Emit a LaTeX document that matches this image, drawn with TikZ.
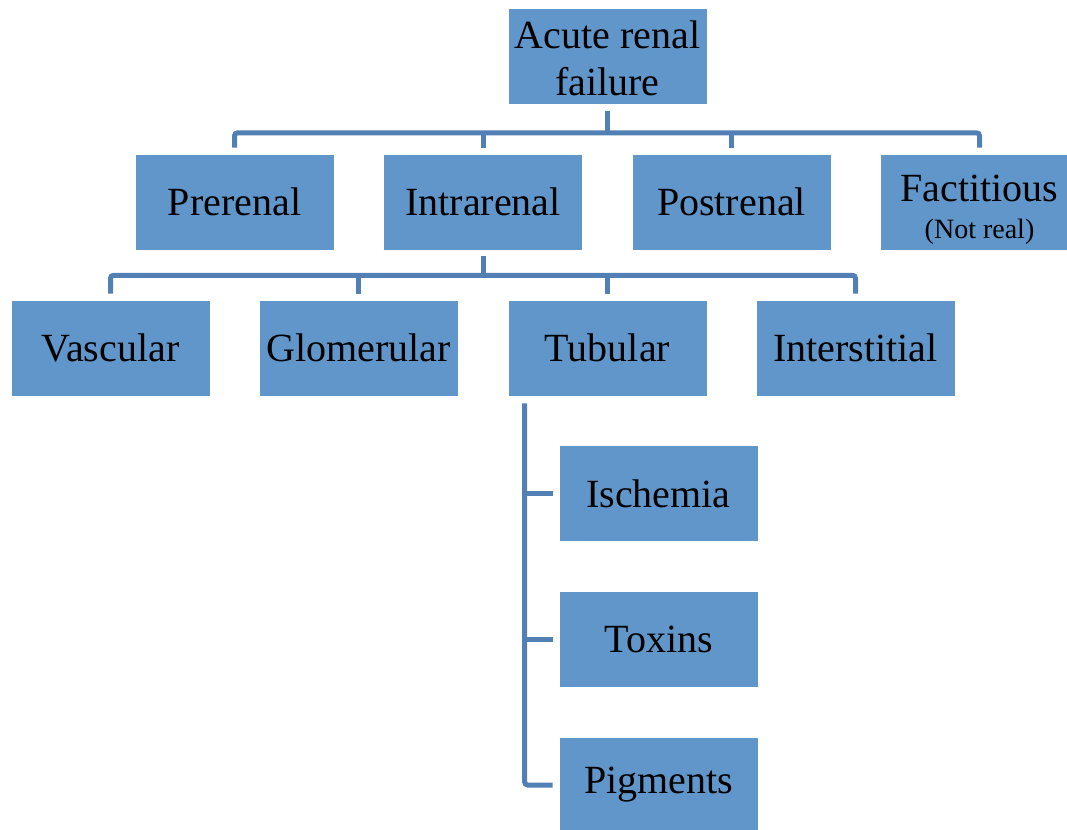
\documentclass[tikz,border=0pt]{standalone}
\usepackage{fontspec}
\setmainfont{Liberation Serif}
\definecolor{boxblue}{RGB}{96,150,201}
\definecolor{lineblue}{RGB}{82,128,181}
\begin{document}
\begin{tikzpicture}[x=1pt,y=-1pt,
    box/.style={fill=boxblue,draw=white,line width=0.6pt,minimum width=199pt,minimum height=96pt,
        inner sep=0pt,align=center,font=\fontsize{40}{47}\selectfont},
    link/.style={draw=lineblue,line width=5pt,rounded corners=3pt}]
    % Fix the page to the reference size
    \useasboundingbox (0,0) rectangle (1067,829);

    % Top box
    \node[box] (root) at (607.5,56.5) {\rule{0pt}{32pt}Acute renal\\failure};

    % Second row
    \node[box] (pre) at (234.5,202) {Prerenal};
    \node[box] (intra) at (483,202) {Intrarenal};
    \node[box] (post) at (731.5,202) {Postrenal};
    \node[box] (fact) at (979.5,202) {\rule{0pt}{42pt}Factitious\\[-10pt]{\fontsize{28}{32}\selectfont (Not real)}};

    % Third row, under Intrarenal
    \node[box] (vasc) at (110.5,348) {Vascular};
    \node[box] (glom) at (358.5,348) {Glomerular};
    \node[box] (tub) at (607.5,348) {Tubular};
    \node[box] (inter) at (855.5,348) {Interstitial};

    % Column under Tubular
    \node[box] (isch) at (658.5,493.5) {Ischemia};
    \node[box] (tox) at (658.5,639.5) {Toxins};
    \node[box] (pig) at (658.5,785) {Pigments};

    % Connectors from the top box
    \draw[link] ([yshift=-6pt]root.south) -- ++(0,22) coordinate (bus1);
    \draw[link] ([yshift=6pt]pre.north) |- (bus1) -| ([yshift=6pt]fact.north);
    \draw[link] (bus1 -| intra.north) -- ([yshift=6pt]intra.north);
    \draw[link] (bus1 -| post.north) -- ([yshift=6pt]post.north);

    % Connectors from Intrarenal
    \draw[link] ([yshift=-6pt]intra.south) -- ++(0,19) coordinate (bus2);
    \draw[link] ([yshift=6pt]vasc.north) |- (bus2) -| ([yshift=6pt]inter.north);
    \draw[link] (bus2 -| glom.north) -- ([yshift=6pt]glom.north);
    \draw[link] (bus2 -| tub.north) -- ([yshift=6pt]tub.north);

    % Connectors from Tubular
    \coordinate (spine) at ([xshift=17pt,yshift=-7pt]tub.south west);
    \draw[link] (spine) |- ([xshift=-6pt]pig.west);
    \draw[link] (spine |- isch.west) -- ([xshift=-6pt]isch.west);
    \draw[link] (spine |- tox.west) -- ([xshift=-6pt]tox.west);
\end{tikzpicture}
\end{document}
